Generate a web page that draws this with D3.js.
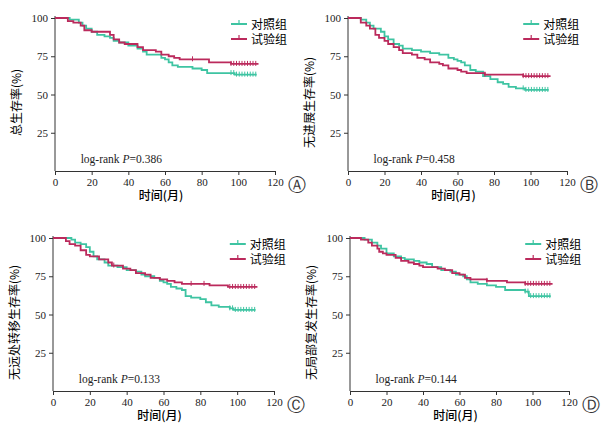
<!DOCTYPE html>
<html><head><meta charset="utf-8">
<script src="https://cdn.jsdelivr.net/npm/d3@7"></script>
<style>body{margin:0;background:#fff}text{font-family:"Liberation Serif",serif}</style>
</head><body><svg width="615" height="431"></svg>
<script>
// step points [month, survival %]
const osCtrl = [[0,100],[8,99],[13,97],[15,95],[17,93],[20,91],[23,89],[27,88],[30,87],[32,85],[35,84],[40,82],[45,80],[48,78],[50,76],[55,76],[58,74],[60,73],[62,71],[64,69],[67,68],[75,67],[80,66],[83,64],[98,63],[110,63]];
const osExp  = [[0,100],[7,98],[10,97],[14,95],[16,92],[20,91],[30,89],[32,86],[35,84],[38,83],[45,81],[48,79],[55,78],[58,76],[62,75],[65,74],[68,73],[84,71],[96,70],[111,70]];
const pfsCtrl = [[0,100],[7,99],[10,97],[12,95],[14,93],[18,91],[20,88],[22,86],[25,83],[28,82],[30,80],[35,79],[40,78],[45,77],[50,76],[55,74],[58,73],[60,72],[62,71],[64,69],[67,66],[70,65],[74,62],[78,60],[82,58],[85,57],[88,55],[92,54],[97,53],[110,53]];
const pfsExp  = [[0,100],[7,97],[10,95],[12,93],[15,89],[17,87],[20,85],[22,83],[25,81],[28,79],[30,77],[35,76],[38,74],[42,73],[45,71],[50,70],[52,69],[55,67],[60,66],[62,65],[65,64],[75,63],[96,62],[111,62]];
const dmfsCtrl = [[0,100],[10,99],[12,97],[15,96],[18,94],[20,91],[22,88],[24,86],[28,84],[30,82],[35,81],[40,79],[45,78],[48,76],[50,75],[55,74],[58,72],[60,71],[62,70],[64,68],[67,67],[70,66],[72,62],[75,61],[80,60],[83,58],[86,56],[90,55],[96,54],[98,53],[110,53]];
const dmfsExp  = [[0,100],[7,98],[9,96],[12,95],[15,92],[18,89],[20,88],[25,86],[30,84],[32,82],[38,80],[42,79],[45,77],[50,76],[53,74],[58,73],[62,72],[66,71],[70,70],[85,69],[95,68],[111,68]];
const lrfsCtrl = [[0,100],[8,99],[12,97],[15,95],[17,93],[20,90],[24,88],[28,87],[30,86],[35,85],[38,84],[42,83],[45,81],[50,79],[55,78],[58,76],[62,75],[64,73],[66,71],[70,70],[75,69],[80,68],[85,66],[96,65],[98,62],[110,62]];
const lrfsExp  = [[0,100],[6,99],[10,97],[12,95],[15,93],[16,91],[18,90],[20,89],[25,87],[28,85],[32,84],[35,83],[38,82],[40,81],[48,80],[52,79],[56,77],[60,76],[63,74],[66,73],[75,72],[86,71],[96,70],[111,70]];
const censorTimes = [96,97.5,99,100.5,102,103.5,105,106.5,108,109.5];
const xTicks = [0,20,40,60,80,100,120];
const yTicks = [25,50,75,100];
const groups = ["对照组","试验组"];
const colors = ["#3ec4a2","#bb2a5c"];

const panels = [
  {x0:55, x1:275, yTop:18, y0:171, title:"总生存率(%)", p:"0.386", tag:"Ⓐ", d:[osCtrl,osExp], extra:[[],[75]]},
  {x0:348,x1:567, yTop:18, y0:171, title:"无进展生存率(%)", p:"0.458", tag:"Ⓑ", d:[pfsCtrl,pfsExp], extra:[[],[75]]},
  {x0:53, x1:274, yTop:238,y0:391, title:"无远处转移生存率(%)", p:"0.133", tag:"Ⓒ", d:[dmfsCtrl,dmfsExp], extra:[[],[33,75,82]]},
  {x0:350,x1:569, yTop:238,y0:391, title:"无局部复发生存率(%)", p:"0.144", tag:"Ⓓ", d:[lrfsCtrl,lrfsExp], extra:[[],[75]]}
];

const svg = d3.select("svg");
function valAt(arr,t){let v=arr[0][1];for(const p of arr){if(p[0]<=t)v=p[1];}return v;}

panels.forEach(pn=>{
  const x = d3.scaleLinear().domain([0,120]).range([pn.x0,pn.x1]);
  const y = d3.scaleLinear().domain([0,100]).range([pn.y0,pn.yTop]);
  const g = svg.append("g");
  const ax = g.append("g").attr("transform",`translate(0,${pn.y0})`)
    .call(d3.axisBottom(x).tickValues(xTicks).tickSize(4).tickSizeOuter(0));
  const ay = g.append("g").attr("transform",`translate(${pn.x0},0)`)
    .call(d3.axisLeft(y).tickValues(yTicks).tickSize(4).tickSizeOuter(0));
  [ax,ay].forEach(a=>{a.selectAll("text").attr("font-size",11).attr("font-family","Liberation Serif").attr("fill","#222");
    a.selectAll("path,line").attr("stroke","#333");});
  ay.select(".domain").attr("d",`M0,${y(100)-2}V${pn.y0}`);
  const line = d3.line().curve(d3.curveStepAfter).x(d=>x(d[0])).y(d=>y(d[1]));
  pn.d.forEach((arr,i)=>{
    g.append("path").attr("d",line(arr)).attr("fill","none").attr("stroke",colors[i]).attr("stroke-width",1.8);
    const last = arr[arr.length-1][0];
    censorTimes.concat(pn.extra[i]).filter(t=>t<=last).forEach(t=>{
      g.append("line").attr("x1",x(t)).attr("x2",x(t)).attr("y1",y(valAt(arr,t))-3).attr("y2",y(valAt(arr,t))+2)
        .attr("stroke",colors[i]).attr("stroke-width",1);
    });
  });
  // legend
  groups.forEach((name,i)=>{
    const ly = pn.yTop+6+i*15, lx = x(96);
    g.append("line").attr("x1",lx).attr("x2",lx+16).attr("y1",ly).attr("y2",ly).attr("stroke",colors[i]).attr("stroke-width",2);
    g.append("line").attr("x1",lx+8).attr("x2",lx+8).attr("y1",ly-4).attr("y2",ly+1).attr("stroke",colors[i]).attr("stroke-width",1.2);
    g.append("text").attr("x",lx+20).attr("y",ly+4.5).attr("font-size",12).style("font-family","Noto Sans CJK SC").text(name);
  });
  const lt = g.append("text").attr("x",x(14)).attr("y",y(5)).attr("font-size",11.5).attr("fill","#222");
  lt.append("tspan").text("log-rank ");
  lt.append("tspan").attr("font-style","italic").text("P");
  lt.append("tspan").text("="+pn.p);
  g.append("text").attr("x",(pn.x0+pn.x1)/2-4).attr("y",pn.y0+29).attr("text-anchor","middle")
    .attr("font-size",12).style("font-family","Noto Sans CJK SC").attr("font-weight","500").text("时间(月)");
  g.append("text").attr("transform",`translate(${pn.x0-34},${(pn.yTop+pn.y0)/2+8}) rotate(-90)`)
    .attr("text-anchor","middle").attr("font-size",12).style("font-family","Noto Sans CJK SC").text(pn.title);
  g.append("text").attr("x",pn.x1+22).attr("y",pn.y0+20).attr("text-anchor","middle").attr("font-size",18)
    .style("font-family","DejaVu Sans").attr("fill","#333").text(pn.tag);
});
</script></body></html>
